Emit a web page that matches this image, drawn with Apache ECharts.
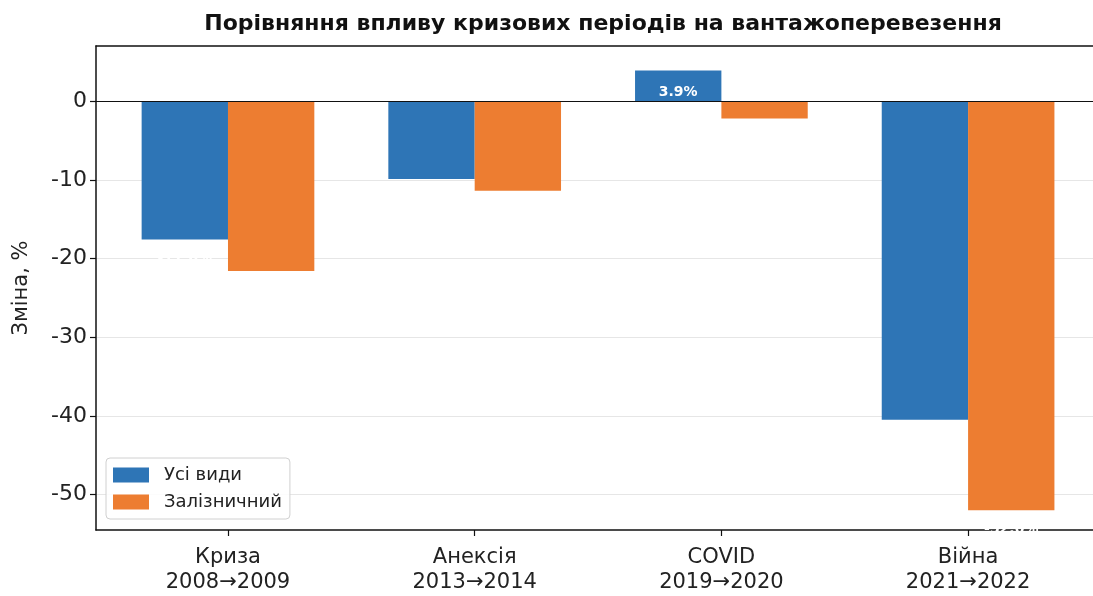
<!DOCTYPE html>
<html>
<head>
<meta charset="utf-8">
<script src="https://cdn.jsdelivr.net/npm/echarts@6/dist/echarts.min.js"></script>
<style>
  html, body {margin: 0; padding: 0; background: #fff;}
  #main {width: 1093px; height: 596px;}
</style>
</head>
<body>
<div id="main"></div>
<script>
// categories and values
const categories = ['Криза\n2008→2009', 'Анексія\n2013→2014', 'COVID\n2019→2020', 'Війна\n2021→2022'];
const allTypes = [-17.6, -9.9, 3.9, -40.5];   // Усі види
const railway = [-21.6, -11.4, -2.2, -52.0];  // Залізничний
const yTicks = [-50, -40, -30, -20, -10, 0];
const xTicks = [0, 1, 2, 3];

const FONT = 'DejaVu Sans';
const GRID_W = 997;
const UNIT = 246.7;           // px per category step
const X_MIN = -0.535;
const X_MAX = X_MIN + GRID_W / UNIT;
const BAR = 0.35;
const barPx = UNIT * BAR;

// label sits just below the end of a bar (white text)
const toData = (vals, shift) => vals.map((v, i) => {
    let item = {value: [i + shift, v]};
    if (v >= 0) item.label = {position: 'insideTop', distance: 15};
    return item;
});

const labelStyle = {
    show: true,
    position: 'bottom',
    distance: 12,
    color: '#fff',
    fontFamily: FONT,
    fontWeight: 'bold',
    fontSize: 14,
    formatter: p => p.value[1].toFixed(1) + '%'
};

const myChart = echarts.init(document.getElementById('main'));

let option = {
    backgroundColor: '#fff',
    animation: false,
    textStyle: {fontFamily: FONT},
    title: {
        text: 'Порівняння впливу кризових періодів на вантажоперевезення',
        left: 598,
        top: 8,
        textAlign: 'center',
        textStyle: {fontFamily: FONT, fontWeight: 'bold', fontSize: 22, color: '#111'}
    },
    legend: {
        orient: 'vertical',
        left: 106,
        top: 458,
        icon: 'rect',
        itemWidth: 36,
        itemHeight: 15,
        itemGap: 9,
        padding: [8, 8, 8, 7],
        borderColor: '#d0d0d0',
        borderWidth: 1,
        borderRadius: 4,
        backgroundColor: 'rgba(255,255,255,0.85)',
        textStyle: {fontFamily: FONT, fontSize: 18, color: '#222', padding: [0, 0, 0, 10]},
        data: ['Усі види', 'Залізничний']
    },
    grid: {left: 96, top: 46, bottom: 66, right: 0, outerBoundsMode: 'none'},
    xAxis: [{
        type: 'value',
        min: X_MIN,
        max: X_MAX,
        axisLine: {show: true, onZero: false, lineStyle: {color: '#111', width: 1.5}},
        axisTick: {show: true, length: 6, customValues: xTicks, lineStyle: {color: '#111', width: 1.2}},
        axisLabel: {
            customValues: xTicks,
            formatter: v => categories[Math.round(v)] || '',
            color: '#222', fontFamily: FONT, fontSize: 21, lineHeight: 25, margin: 15
        },
        splitLine: {show: false}
    }, {
        type: 'value',
        position: 'top',
        min: X_MIN,
        max: X_MAX,
        axisLine: {show: true, onZero: false, lineStyle: {color: '#111', width: 1.5}},
        axisTick: {show: false},
        axisLabel: {show: false},
        splitLine: {show: false}
    }],
    yAxis: {
        type: 'value',
        min: -54.5,
        max: 7.0,
        name: 'Зміна, %',
        nameLocation: 'middle',
        nameRotate: 90,
        nameGap: 64,
        nameTextStyle: {fontFamily: FONT, fontSize: 21, color: '#222'},
        axisLine: {show: true, onZero: false, lineStyle: {color: '#111', width: 1.5}},
        axisTick: {show: true, length: 6, customValues: yTicks, lineStyle: {color: '#111', width: 1.2}},
        axisLabel: {customValues: yTicks, color: '#222', fontFamily: FONT, fontSize: 22, margin: 9},
        splitLine: {show: true, lineStyle: {color: '#e6e6e6', width: 1.2}}
    },
    series: [{
        name: 'Усі види',
        type: 'bar',
        barWidth: barPx,
        barGap: '-100%',
        itemStyle: {color: '#2e75b6'},
        label: labelStyle,
        data: toData(allTypes, -BAR / 2),
        markLine: {
            silent: true,
            symbol: 'none',
            label: {show: false},
            lineStyle: {color: '#111', width: 1.2, type: 'solid'},
            data: [{yAxis: 0}]
        }
    }, {
        name: 'Залізничний',
        type: 'bar',
        barWidth: barPx,
        barGap: '-100%',
        itemStyle: {color: '#ed7d31'},
        label: labelStyle,
        data: toData(railway, BAR / 2)
    }]
};

myChart.setOption(option);
</script>
</body>
</html>
